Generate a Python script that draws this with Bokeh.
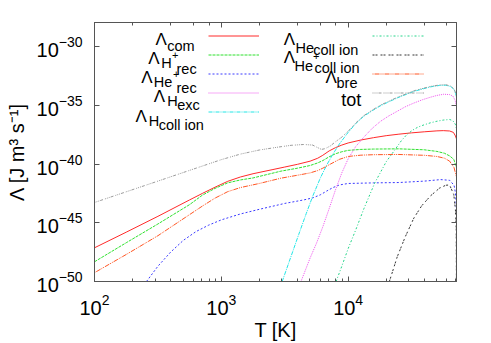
import numpy as np
from bokeh.plotting import figure
from bokeh.models import (LogAxis, LogTicker, FixedTicker, Legend, LegendItem,
                          Label, Range1d, CustomJSTickFormatter)
from bokeh.embed import file_html
from bokeh.resources import INLINE

FONT = "Liberation Sans"

# ---------------- data (log10 T [K], log10 Lambda [J m^3 s^-1]) ----------------
com_logT = [2.0, 2.25, 2.5, 2.75, 2.85, 2.95, 3.05, 3.15, 3.25, 3.4, 3.5, 3.6, 3.7, 3.76, 3.8, 3.85, 3.9, 3.95, 4.0, 4.1, 4.2, 4.3, 4.4, 4.5, 4.6, 4.7, 4.75, 4.8, 4.83, 4.846, 4.854]
com_logL = [-47.13, -45.8, -44.45, -43.05, -42.5, -41.97, -41.47, -41.1, -40.82, -40.48, -40.25, -40.02, -39.75, -39.5, -39.25, -38.88, -38.6, -38.38, -38.2, -37.95, -37.75, -37.58, -37.45, -37.34, -37.25, -37.17, -37.15, -37.18, -37.3, -37.6, -37.85]

hrec_logT = [2.0, 2.25, 2.5, 2.75, 2.85, 2.95, 3.05, 3.15, 3.25, 3.47, 3.6, 3.7, 3.76, 3.8, 3.85, 3.9, 3.95, 4.0, 4.1, 4.2, 4.4, 4.6, 4.7, 4.76, 4.8, 4.833, 4.854]
hrec_logL = [-48.32, -46.7, -45.1, -43.45, -42.65, -42.07, -41.6, -41.35, -41.18, -40.6, -40.35, -40.12, -39.9, -39.7, -39.38, -39.12, -38.95, -38.83, -38.75, -38.72, -38.7, -38.78, -38.92, -39.08, -39.3, -39.6, -40.3]

herec_logT = [2.41, 2.5, 2.6, 2.7, 2.8, 2.9, 3.0, 3.15, 3.3, 3.5, 3.65, 3.72, 3.78, 3.83, 3.88, 3.93, 4.0, 4.2, 4.4, 4.6, 4.73, 4.8, 4.835, 4.846, 4.854]
herec_logL = [-50.0, -48.7, -47.5, -46.5, -45.75, -45.2, -44.75, -44.25, -43.85, -43.35, -43.05, -42.88, -42.62, -42.3, -42.0, -41.78, -41.65, -41.6, -41.57, -41.45, -41.32, -41.38, -41.8, -42.45, -43.9]

hexc_logT = [3.628, 3.7, 3.75, 3.8, 3.85, 3.9, 3.95, 4.0, 4.06, 4.124, 4.19, 4.256, 4.32, 4.387, 4.45, 4.518, 4.585, 4.65, 4.7, 4.754, 4.8, 4.825, 4.843, 4.854]
hexc_logL = [-50.0, -48.0, -46.75, -45.35, -43.8, -42.2, -40.75, -39.55, -38.5, -37.7, -36.95, -36.35, -35.9, -35.5, -35.12, -34.8, -34.52, -34.3, -34.15, -34.05, -34.08, -34.2, -34.55, -35.1]

hci_logT = [3.48, 3.55, 3.61, 3.67, 3.72, 3.78, 3.83, 3.88, 3.93, 4.0, 4.06, 4.12, 4.19, 4.26, 4.39, 4.52, 4.65, 4.72, 4.77, 4.81, 4.835, 4.848, 4.854]
hci_logL = [-50.0, -47.85, -46.0, -44.2, -42.75, -41.2, -40.1, -39.15, -38.3, -37.3, -36.55, -35.95, -35.45, -35.0, -34.35, -33.8, -33.42, -33.3, -33.28, -33.4, -33.65, -34.0, -34.3]

heci_logT = [3.905, 3.95, 4.0, 4.06, 4.124, 4.21, 4.3, 4.374, 4.42, 4.466, 4.51, 4.55, 4.6, 4.65, 4.7, 4.75, 4.8, 4.825, 4.845, 4.854]
heci_logL = [-50.0, -48.7, -47.2, -45.6, -43.8, -41.6, -39.8, -38.7, -38.0, -37.45, -37.1, -36.85, -36.65, -36.48, -36.35, -36.25, -36.2, -36.3, -36.6, -37.0]

hepci_logT = [4.325, 4.387, 4.45, 4.518, 4.58, 4.65, 4.72, 4.77, 4.8, 4.833, 4.846, 4.852, 4.854]
hepci_logL = [-50.0, -47.9, -46.2, -44.6, -43.55, -42.7, -42.05, -41.8, -41.78, -42.6, -43.9, -45.5, -51.0]

bre_logT = [2.0, 2.25, 2.5, 2.75, 2.85, 2.95, 3.05, 3.15, 3.3, 3.47, 3.6, 3.7, 3.76, 3.8, 3.86, 3.93, 4.0, 4.1, 4.2, 4.4, 4.6, 4.7, 4.76, 4.8, 4.835, 4.854]
bre_logL = [-49.25, -47.7, -46.1, -44.3, -43.58, -42.9, -42.35, -42.0, -41.65, -41.2, -40.95, -40.75, -40.55, -40.35, -40.0, -39.6, -39.35, -39.24, -39.2, -39.18, -39.25, -39.35, -39.5, -39.75, -40.3, -41.1]

tot_logT = [2.0, 2.5, 2.8, 3.0, 3.15, 3.3, 3.45, 3.55, 3.65, 3.72, 3.76, 3.79, 3.82, 3.86, 3.9, 3.95, 4.0, 4.06, 4.12, 4.19, 4.26, 4.39, 4.52, 4.65, 4.72, 4.77, 4.81, 4.835, 4.848, 4.854]
tot_logL = [-43.27, -41.45, -40.35, -39.62, -39.15, -38.8, -38.55, -38.4, -38.33, -38.38, -38.6, -38.75, -38.68, -38.45, -38.1, -37.7, -37.2, -36.5, -35.9, -35.4, -34.95, -34.3, -33.75, -33.38, -33.26, -33.24, -33.36, -33.6, -33.95, -34.25]

y_ticks_exp = [-50, -45, -40, -35, -30]
x_range = (1e2, 7.15e4)
y_range = (1e-50, 1.15e-28)

series = [
    # key, logT, logL, color, dash
    ("com",   com_logT,   com_logL,   "#ff2a2a", "solid"),
    ("hrec",  hrec_logT,  hrec_logL,  "#2fe02f", "3 1"),
    ("herec", herec_logT, herec_logL, "#3a3aff", "2 2"),
    ("hexc",  hexc_logT,  hexc_logL,  "#ee55ee", "1 1"),
    ("hci",   hci_logT,   hci_logL,   "#22e6e6", "4 1 1 1"),
    ("heci",  heci_logT,  heci_logL,  "#22d488", "2 2 1 2"),
    ("hepci", hepci_logT, hepci_logL, "#333333", "2 1 2 3"),
    ("bre",   bre_logT,   bre_logL,   "#ff5522", "1 1 5 1 1 1"),
    ("tot",   tot_logT,   tot_logL,   "#9a9a9a", "1 1 1 1 1 1 3 2"),
]

p = figure(width=491, height=343, x_axis_type="log", y_axis_type="log",
           x_range=Range1d(*x_range), y_range=Range1d(*y_range),
           output_backend="svg", toolbar_location=None,
           min_border_left=94, min_border_right=35,
           min_border_top=22, min_border_bottom=61,
           background_fill_color="white", border_fill_color="white")
p.grid.visible = False
p.outline_line_color = "#555555"

AX = "#555555"
p.yaxis.ticker = FixedTicker(ticks=[10.0 ** e for e in y_ticks_exp], minor_ticks=[])
for ax in (p.xaxis[0], p.yaxis[0]):
    ax.major_tick_in = 5
    ax.major_tick_out = 0
    ax.minor_tick_in = 3
    ax.minor_tick_out = 0
    ax.axis_line_color = AX
    ax.major_tick_line_color = AX
    ax.minor_tick_line_color = AX
    ax.major_label_text_font = FONT
    ax.major_label_text_font_size = "20px"
    ax.major_label_text_color = "black"
    ax.major_label_standoff = 12
    ax.axis_label_text_font = FONT
    ax.axis_label_text_font_size = "20px"
    ax.axis_label_text_font_style = "normal"
    ax.axis_label_text_color = "black"

p.xaxis.axis_label = "T [K]"
p.xaxis.axis_label_standoff = 1
p.yaxis.axis_label = "Λ [J m³ s⁻¹]"
p.yaxis.axis_label_standoff = 6

blank = CustomJSTickFormatter(code="return ''")
top = LogAxis(ticker=LogTicker(), formatter=blank, major_label_text_font_size="8px",
              major_label_standoff=0, major_tick_in=5, major_tick_out=0,
              minor_tick_in=3, minor_tick_out=0, axis_line_color=AX,
              major_tick_line_color=AX, minor_tick_line_color=AX)
right = LogAxis(ticker=FixedTicker(ticks=[10.0 ** e for e in y_ticks_exp], minor_ticks=[]),
                formatter=CustomJSTickFormatter(code="return ''"),
                major_label_text_font_size="8px", major_label_standoff=0,
                major_tick_in=5, major_tick_out=0, minor_tick_in=0, minor_tick_out=0,
                axis_line_color=AX, major_tick_line_color=AX, minor_tick_line_color=AX)
p.add_layout(top, "above")
p.add_layout(right, "right")

rend = {}
for key, lt, ll, col, dash in series:
    rend[key] = p.line(x=10.0 ** np.array(lt), y=10.0 ** np.array(ll),
                       line_color=col, line_dash=dash, line_width=1)

def mk_legend(keys, loc, gw):
    return Legend(items=[LegendItem(label=" ", renderers=[rend[k]]) for k in keys],
                  location=loc, orientation="vertical", glyph_width=gw,
                  glyph_height=19, spacing=0, padding=0, margin=0,
                  label_width=2, label_height=6, label_standoff=0,
                  label_text_font_size="6px", background_fill_alpha=0,
                  border_line_alpha=0)

p.add_layout(mk_legend(["com", "hrec", "herec", "hexc", "hci"], (113.7, 160.2), 51))
p.add_layout(mk_legend(["heci", "hepci", "bre", "tot"], (278, 179.2), 52))

def lab(x, y, t, size, align="left"):
    p.add_layout(Label(x=x, y=y, x_units="screen", y_units="screen", text=t,
                       text_font=FONT, text_font_size=size, text_color="black",
                       text_align=align, text_baseline="alphabetic"))

BIG, SUB, SUP = "17px", "14.5px", "11px"
# left column
lab(61, 242, "Λ", BIG);   lab(72.7, 236, "com", SUB)
lab(53.7, 223, "Λ", BIG); lab(66.7, 218.7, "H", SUB); lab(77.5, 227, "+", SUP); lab(82, 212.7, "rec", SUB)
lab(46.7, 203.7, "Λ", BIG); lab(59.3, 199.3, "He", SUB); lab(78.5, 207.3, "+", SUP); lab(82, 193.7, "rec", SUB)
lab(59.3, 184.7, "Λ", BIG); lab(72.7, 180.3, "H", SUB); lab(82.7, 176.3, "exc", SUB)
lab(41, 165.3, "Λ", BIG); lab(54.3, 160.3, "H", SUB); lab(64.3, 157, "coll ion", SUB)
# right column
lab(189.3, 242, "Λ", BIG); lab(201, 234, "He", SUB); lab(218.7, 231.5, "coll ion", SUB)
lab(189.3, 223.7, "Λ", BIG); lab(200, 216, "He", SUB); lab(218.5, 226, "+", SUP); lab(220, 214, "coll ion", SUB)
lab(231, 203.7, "Λ", BIG); lab(242, 198.7, "bre", SUB)
lab(266.7, 182, "tot", "18px", align="right")

open("out.html", "w").write(file_html(p, INLINE))
